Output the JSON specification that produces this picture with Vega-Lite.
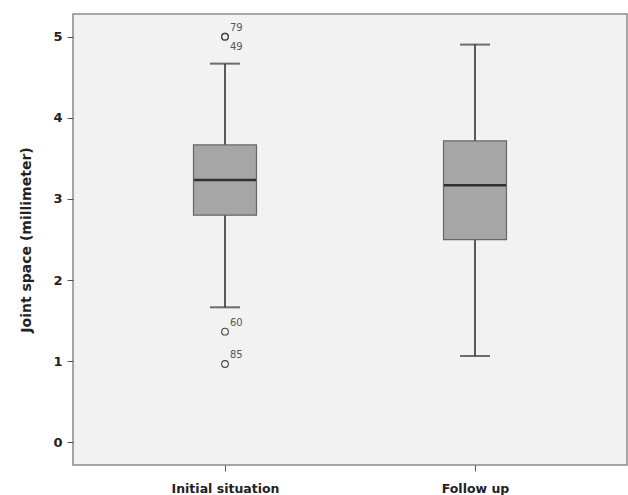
{
  "$schema": "https://vega.github.io/schema/vega-lite/v6.json",
  "width": 554,
  "height": 451,
  "autosize": {"type": "none"},
  "padding": {"left": 73, "top": 14, "right": 1, "bottom": 30},
  "background": "white",
  "config": {
    "view": {"fill": "#f2f2f2", "stroke": "#8a8a8a", "strokeWidth": 1.5},
    "font": "DejaVu Sans",
    "axis": {"domain": false, "grid": false, "tickColor": "#555", "labelColor": "#222", "titleColor": "#222"}
  },
  "datasets": {
    "boxes": [
      {"group": "Initial situation", "lower": 1.664, "q1": 2.80, "median": 3.234, "q3": 3.666, "upper": 4.668},
      {"group": "Follow up", "lower": 1.064, "q1": 2.498, "median": 3.169, "q3": 3.715, "upper": 4.903}
    ],
    "outliers": [
      {"group": "Initial situation", "value": 5.0, "id": "79"},
      {"group": "Initial situation", "value": 5.0, "id": "49"},
      {"group": "Initial situation", "value": 1.364, "id": "60"},
      {"group": "Initial situation", "value": 0.965, "id": "85"}
    ]
  },
  "encoding": {
    "x": {
      "field": "group", "type": "nominal", "sort": ["Initial situation", "Follow up"],
      "scale": {"type": "point", "padding": 0.608},
      "axis": {"title": null, "labelAngle": 0, "labelFont": "DejaVu Sans", "labelFontSize": 12.5, "labelFontWeight": "bold", "tickSize": 6, "labelPadding": 11}
    },
    "y": {
      "type": "quantitative",
      "scale": {"domain": [-0.28, 5.28], "nice": false, "zero": false},
      "axis": {"title": "Joint space (millimeter)", "values": [0, 1, 2, 3, 4, 5], "labelFontSize": 13, "labelFontWeight": "bold", "titleFontSize": 14, "titleFontWeight": "bold", "tickSize": 6, "labelPadding": 5, "titlePadding": 19}
    }
  },
  "layer": [
    {
      "data": {"name": "boxes"},
      "mark": {"type": "rule", "color": "#333", "strokeWidth": 1.6},
      "encoding": {"y": {"field": "lower", "type": "quantitative"}, "y2": {"field": "upper"}}
    },
    {
      "data": {"name": "boxes"},
      "mark": {"type": "tick", "color": "#333", "thickness": 2, "size": 30},
      "encoding": {"y": {"field": "lower", "type": "quantitative"}}
    },
    {
      "data": {"name": "boxes"},
      "mark": {"type": "tick", "color": "#333", "thickness": 2, "size": 30},
      "encoding": {"y": {"field": "upper", "type": "quantitative"}}
    },
    {
      "data": {"name": "boxes"},
      "mark": {"type": "bar", "size": 63, "fill": "#a6a6a6", "stroke": "#666", "strokeWidth": 1.2},
      "encoding": {"y": {"field": "q1", "type": "quantitative"}, "y2": {"field": "q3"}}
    },
    {
      "data": {"name": "boxes"},
      "mark": {"type": "tick", "color": "#000", "thickness": 2.4, "size": 62},
      "encoding": {"y": {"field": "median", "type": "quantitative"}}
    },
    {
      "data": {"name": "outliers"},
      "mark": {"type": "point", "filled": false, "color": "#444", "size": 45, "strokeWidth": 1.1, "opacity": 1},
      "encoding": {"y": {"field": "value", "type": "quantitative"}}
    },
    {
      "data": {"name": "outliers"},
      "transform": [{"filter": "datum.id != '49'"}],
      "mark": {"type": "text", "align": "left", "dx": 5, "dy": -9, "fontSize": 10, "color": "#555"},
      "encoding": {"y": {"field": "value", "type": "quantitative"}, "text": {"field": "id"}}
    },
    {
      "data": {"name": "outliers"},
      "transform": [{"filter": "datum.id == '49'"}],
      "mark": {"type": "text", "align": "left", "dx": 5, "dy": 10, "fontSize": 10, "color": "#555"},
      "encoding": {"y": {"field": "value", "type": "quantitative"}, "text": {"field": "id"}}
    }
  ]
}
